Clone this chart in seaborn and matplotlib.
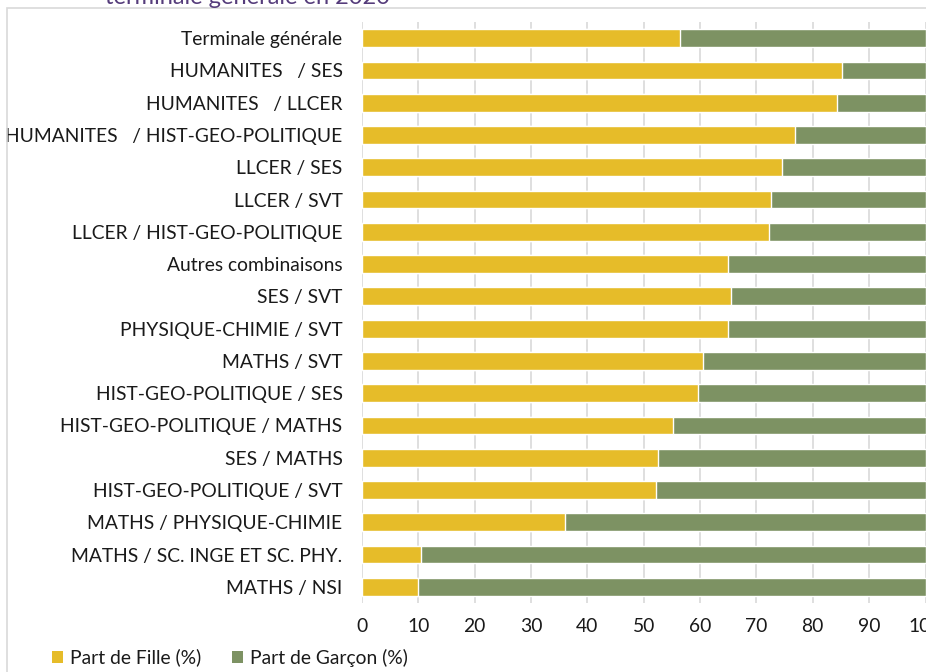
import matplotlib
matplotlib.use("Agg")
import matplotlib.pyplot as plt
from matplotlib.patches import Patch, Rectangle
import seaborn as sns
import pandas as pd

categories = [
    "Terminale générale",
    "HUMANITES   / SES",
    "HUMANITES   / LLCER",
    "HUMANITES   / HIST-GEO-POLITIQUE",
    "LLCER / SES",
    "LLCER / SVT",
    "LLCER / HIST-GEO-POLITIQUE",
    "Autres combinaisons",
    "SES / SVT",
    "PHYSIQUE-CHIMIE / SVT",
    "MATHS / SVT",
    "HIST-GEO-POLITIQUE / SES",
    "HIST-GEO-POLITIQUE / MATHS",
    "SES / MATHS",
    "HIST-GEO-POLITIQUE / SVT",
    "MATHS / PHYSIQUE-CHIMIE",
    "MATHS / SC. INGE ET SC. PHY.",
    "MATHS / NSI",
]
part_fille = [56.5, 85.2, 84.3, 76.8, 74.6, 72.5, 72.3, 65.0, 65.5, 65.0,
              60.5, 59.7, 55.2, 52.5, 52.2, 36.1, 10.5, 10.0]
part_garcon = [round(100 - v, 1) for v in part_fille]
x_ticks = [0, 10, 20, 30, 40, 50, 60, 70, 80, 90, 100]

YELLOW = "#E6BC29"
GREEN = "#7D9263"
GRID = "#D9D9D9"
FONT = "Lato"
FS = 13.9

df = pd.DataFrame({"cat": categories, "fille": part_fille, "garcon": part_garcon})
df["total"] = df["fille"] + df["garcon"]

sns.set_theme(style="white")
plt.rcParams["font.family"] = [FONT, "DejaVu Sans"]

W, H = 926, 672
fig = plt.figure(figsize=(W / 100, H / 100), dpi=100)
ax = fig.add_axes([362 / W, 1 - 603 / H, (925.5 - 362) / W, (603 - 22) / H])

sns.barplot(data=df, y="cat", x="total", color=GREEN, order=categories,
            orient="h", width=0.55, saturation=1, ax=ax, zorder=2)
sns.barplot(data=df, y="cat", x="fille", color=YELLOW, order=categories,
            orient="h", width=0.55, saturation=1, ax=ax, zorder=3)

ax.set_xlim(0, 100)
ax.set_ylim(len(categories) - 0.5, -0.5)
ax.set_xticks(x_ticks)
ax.set_xticklabels([str(t) for t in x_ticks])
ax.xaxis.grid(True, color=GRID, linewidth=1.2, zorder=0)
ax.yaxis.grid(False)
ax.set_axisbelow(True)
for s in ax.spines.values():
    s.set_visible(False)
ax.set_xlabel("")
ax.set_ylabel("")
ax.tick_params(axis="y", length=0, pad=14.0, labelsize=FS, labelcolor="#1a1a1a")
ax.tick_params(axis="x", length=0, pad=11, labelsize=FS, labelcolor="#1a1a1a")

# chart border (partially cropped)
fig.patches.append(Rectangle((6.5 / W, -0.1), 1.2, (1 - 8.3 / H) + 0.1,
                             transform=fig.transFigure, fill=False,
                             edgecolor="#D9D9D9", linewidth=1.2))

# title (cropped at top)
fig.text(105 / W, 1 - 4.5 / H, "terminale générale en 2020", ha="left",
         va="baseline", fontsize=17, color="#553C7B")

handles = [Patch(facecolor=YELLOW, edgecolor="none", label="Part de Fille (%)"),
           Patch(facecolor=GREEN, edgecolor="none", label="Part de Garçon (%)")]
fig.legend(handles=handles, loc="center left",
           bbox_to_anchor=(52 / W, 1 - 657.5 / H), ncol=2, frameon=False,
           fontsize=FS, handlelength=0.57, handleheight=0.57,
           handletextpad=0.36, columnspacing=1.6, borderaxespad=0,
           borderpad=0, labelcolor="#1a1a1a")

fig.savefig("out.png", dpi=100)
